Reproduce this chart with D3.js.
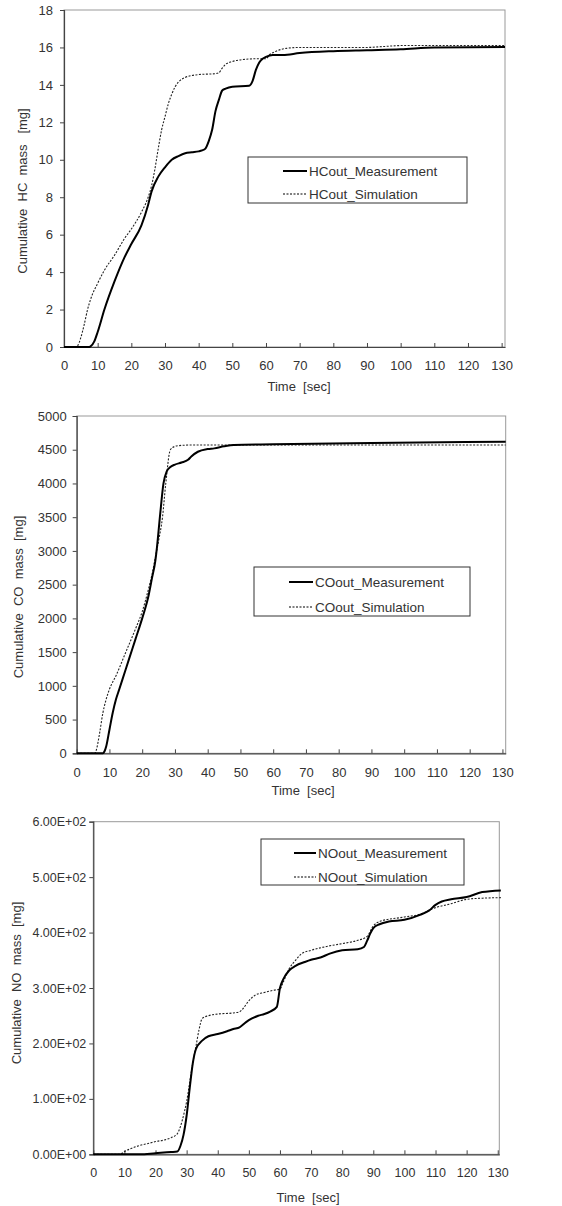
<!DOCTYPE html>
<html>
<head>
<meta charset="utf-8">
<script src="https://cdn.jsdelivr.net/npm/d3@7"></script>
<style>
  body { margin: 0; background: #fff; }
  svg { display: block; font-family: "Liberation Sans", Arial, sans-serif; }
  text { fill: #333; white-space: pre; }
</style>
</head>
<body>
<svg id="chart" width="562" height="1206"></svg>
<script>
// tick values
var xTicks = [0, 10, 20, 30, 40, 50, 60, 70, 80, 90, 100, 110, 120, 130];
var hcTicks = [0, 2, 4, 6, 8, 10, 12, 14, 16, 18];
var coTicks = [0, 500, 1000, 1500, 2000, 2500, 3000, 3500, 4000, 4500, 5000];
var noTicks = [0, 100, 200, 300, 400, 500, 600];

// HC [mg]
var hcMeasTime = [0, 7.5, 8, 9, 10, 12, 15, 18, 20, 23, 25, 26, 28, 30, 32, 34, 36, 38, 40, 41, 42, 43, 44, 45, 46, 47, 48, 50, 55, 56, 57, 58, 59, 60, 62, 65, 70, 80, 90, 100, 110, 131];
var hcMeas = [0, 0, 0.05, 0.3, 0.8, 2.0, 3.5, 4.8, 5.5, 6.5, 7.6, 8.3, 9.1, 9.6, 10.0, 10.2, 10.35, 10.4, 10.45, 10.5, 10.6, 11.0, 11.6, 12.6, 13.2, 13.7, 13.8, 13.9, 13.95, 14.2, 14.8, 15.2, 15.4, 15.5, 15.6, 15.6, 15.7, 15.8, 15.85, 15.9, 16.0, 16.03];
var hcSimTime = [0, 3.5, 4, 5, 6, 7, 8, 10, 12, 15, 18, 20, 23, 25, 26, 27, 28, 29, 30, 31, 32, 33, 34, 36, 38, 40, 45, 46, 47, 48, 50, 53, 58, 60, 61, 63, 66, 70, 90, 95, 100, 131];
var hcSim = [0, 0, 0.05, 0.5, 1.2, 2.0, 2.6, 3.4, 4.1, 4.9, 5.8, 6.3, 7.2, 8.0, 8.6, 9.5, 10.6, 11.6, 12.3, 13.0, 13.5, 13.9, 14.15, 14.4, 14.5, 14.55, 14.6, 14.65, 14.9, 15.1, 15.25, 15.35, 15.4, 15.4, 15.6, 15.8, 15.95, 16.0, 16.0, 16.05, 16.1, 16.1];

// CO [mg]
var coMeasTime = [0, 8, 8.5, 9, 10, 11, 12, 13, 15, 17, 18, 20, 22, 23, 24, 24.5, 25.5, 26.5, 27.5, 28.5, 30, 32, 34, 35, 37, 40, 42, 45, 48, 60, 90, 131];
var coMeas = [0, 0, 30, 100, 350, 600, 800, 950, 1250, 1550, 1700, 2000, 2350, 2600, 2850, 3050, 3550, 4000, 4180, 4240, 4280, 4310, 4350, 4400, 4470, 4510, 4520, 4550, 4570, 4580, 4600, 4620];
var coSimTime = [0, 5.5, 6, 7, 8, 9, 10, 12, 15, 18, 20, 22, 23, 24, 25, 26.2, 27.2, 28.6, 30, 31, 35, 131];
var coSim = [0, 0, 50, 300, 600, 800, 950, 1150, 1500, 1850, 2100, 2450, 2650, 2900, 3150, 3500, 4000, 4500, 4550, 4560, 4570, 4570];

// NO [mg]
var noMeasTime = [0, 15, 20, 25, 27, 28, 29, 30, 31, 32, 33, 35, 37, 40, 43, 45, 47, 49, 51, 53, 55, 57, 59, 60, 61, 63, 65, 68, 70, 73, 76, 80, 85, 87, 88, 89, 90, 92, 95, 100, 105, 108, 110, 112, 115, 120, 125, 131];
var noMeas = [0, 0, 2, 4, 5, 15, 35, 70, 120, 165, 190, 205, 213, 217, 222, 226, 229, 238, 245, 250, 253, 258, 266, 300, 315, 332, 340, 347, 351, 355, 362, 368, 370, 374, 385, 398, 408, 415, 420, 423, 432, 440, 450, 456, 460, 464, 473, 476];
var noSimTime = [0, 8.5, 9, 10, 12, 15, 18, 20, 23, 25, 27, 28, 29, 30, 31, 32, 33, 34, 35, 37, 40, 45, 47, 48, 50, 52, 55, 58, 60, 61, 63, 65, 67, 70, 75, 80, 85, 88, 90, 92, 100, 105, 110, 115, 120, 125, 131];
var noSim = [0, 0, 1, 5, 10, 16, 20, 23, 26, 30, 37, 50, 70, 95, 130, 165, 195, 225, 245, 250, 253, 255, 257, 262, 277, 287, 292, 296, 298, 310, 335, 350, 362, 368, 375, 380, 386, 393, 412, 420, 428, 433, 445, 452, 460, 462, 463];

function sciFormat(d) {
  if (d === 0) return "0.00E+00";
  var e = Math.floor(Math.log10(d));
  var m = d / Math.pow(10, e);
  return m.toFixed(2) + "E+" + (e < 10 ? "0" + e : e);
}

var svg = d3.select("#chart");

function drawPanel(p) {
  var x = d3.scaleLinear().domain([0, p.xMax]).range([p.left, p.right]);
  var y = d3.scaleLinear().domain([0, p.yMax]).range([p.bottom, p.top]);
  var g = svg.append("g");

  // frame
  g.append("rect")
    .attr("x", p.left).attr("y", p.top)
    .attr("width", p.right - p.left).attr("height", p.bottom - p.top)
    .attr("fill", "none").attr("stroke", "#999").attr("stroke-width", 1);

  var yAxis = g.append("g")
    .attr("transform", "translate(" + p.left + ",0)")
    .call(d3.axisLeft(y).tickValues(p.yTicks).tickSize(4).tickPadding(p.yPad).tickFormat(p.yFormat));
  var xAxis = g.append("g")
    .attr("transform", "translate(0," + p.bottom + ")")
    .call(d3.axisBottom(x).tickValues(xTicks).tickSizeInner(-4).tickSizeOuter(0).tickPadding(14));

  [xAxis, yAxis].forEach(function(a) {
    a.select(".domain").attr("stroke", "#444").attr("stroke-width", 1.2);
    a.selectAll(".tick line").attr("stroke", "#444");
    a.selectAll("text").attr("fill", "#333").style("font-size", p.tickFont).style("font-family", "inherit");
  });

  var line = d3.line()
    .x(function(d) { return x(d[0]); })
    .y(function(d) { return y(d[1]); })
    .curve(d3.curveMonotoneX);

  g.append("path")
    .datum(d3.zip(p.simTime, p.sim))
    .attr("d", line)
    .attr("fill", "none").attr("stroke", "#222")
    .attr("stroke-width", 1.1).attr("stroke-dasharray", "2,1.5");
  g.append("path")
    .datum(d3.zip(p.measTime, p.meas))
    .attr("d", line)
    .attr("fill", "none").attr("stroke", "#000").attr("stroke-width", 2);

  // axis titles
  g.append("text")
    .attr("transform", "translate(" + p.yTitleX + "," + p.yTitleY + ") rotate(-90)")
    .attr("text-anchor", "middle").attr("dy", "0.35em")
    .style("font-size", "13px")
    .text(p.yTitle);
  g.append("text")
    .attr("x", p.xTitleX).attr("y", p.xTitleY)
    .attr("text-anchor", "middle").attr("dy", "0.35em")
    .style("font-size", "13px")
    .text("Time  [sec]");

  // legend
  var L = p.legend;
  g.append("rect")
    .attr("x", L.x).attr("y", L.y).attr("width", L.w).attr("height", L.h)
    .attr("fill", "#fff").attr("stroke", "#333").attr("stroke-width", 1);
  var items = [
    { label: p.names[0], width: 2, dash: null },
    { label: p.names[1], width: 1.1, dash: "2,1.5" }
  ];
  items.forEach(function(it, i) {
    var yy = L.rows[i];
    g.append("line")
      .attr("x1", L.x1).attr("x2", L.x2).attr("y1", yy).attr("y2", yy)
      .attr("stroke", "#000").attr("stroke-width", it.width)
      .attr("stroke-dasharray", it.dash);
    g.append("text")
      .attr("x", L.x2 + 2).attr("y", yy).attr("dy", "0.35em")
      .style("font-size", "13.5px")
      .text(it.label);
  });
}

drawPanel({
  left: 64, right: 505, top: 10, bottom: 347, xMax: 131, yMax: 18,
  yTicks: hcTicks, yPad: 7, yFormat: d3.format("d"), tickFont: "13px",
  measTime: hcMeasTime, meas: hcMeas, simTime: hcSimTime, sim: hcSim,
  yTitle: "Cumulative  HC  mass   [mg]", yTitleX: 22, yTitleY: 191,
  xTitleX: 299, xTitleY: 386,
  names: ["HCout_Measurement", "HCout_Simulation"],
  legend: { x: 248, y: 157, w: 219, h: 46, rows: [171, 194], x1: 283, x2: 307 }
});

drawPanel({
  left: 76.7, right: 505.7, top: 416, bottom: 753.3, xMax: 131, yMax: 5000,
  yTicks: coTicks, yPad: 6, yFormat: d3.format("d"), tickFont: "13px",
  measTime: coMeasTime, meas: coMeas, simTime: coSimTime, sim: coSim,
  yTitle: "Cumulative  CO  mass  [mg]", yTitleX: 18, yTitleY: 597,
  xTitleX: 303, xTitleY: 790,
  names: ["COout_Measurement", "COout_Simulation"],
  legend: { x: 254, y: 567, w: 216, h: 49, rows: [582, 607], x1: 289, x2: 313 }
});

drawPanel({
  left: 93.3, right: 499.3, top: 821.7, bottom: 1154.3, xMax: 130.5, yMax: 600,
  yTicks: noTicks, yPad: 3, yFormat: sciFormat, tickFont: "12.5px",
  measTime: noMeasTime, meas: noMeas, simTime: noSimTime, sim: noSim,
  yTitle: "Cumulative  NO  mass  [mg]", yTitleX: 16, yTitleY: 983,
  xTitleX: 308, xTitleY: 1197,
  names: ["NOout_Measurement", "NOout_Simulation"],
  legend: { x: 261, y: 839, w: 203, h: 46, rows: [853, 877], x1: 294, x2: 316 }
});
</script>
</body>
</html>
